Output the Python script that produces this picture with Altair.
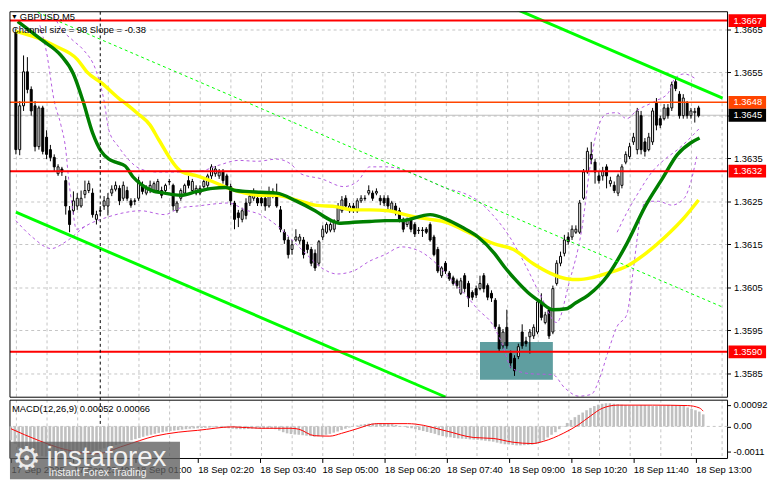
import altair as alt
import pandas as pd

FONT = "Liberation Sans"

# ---------------- candles (GBPUSD M5, bar 0 = 17 Sep 22:20) ----------------
opens = [
1.36641,1.36370,1.36472,1.36551,1.36510,1.36472,1.36377,1.36467,1.36399,1.36370,
1.36352,1.36314,1.36325,1.36298,1.36228,1.36228,1.36239,1.36239,1.36266,1.36275,
1.36269,1.36208,1.36228,1.36239,1.36239,1.36269,1.36278,1.36280,1.36257,1.36275,
1.36251,1.36251,1.36257,1.36287,1.36269,1.36275,1.36275,1.36275,1.36275,1.36275,
1.36296,1.36287,1.36228,1.36257,1.36269,1.36298,1.36275,1.36269,1.36269,1.36284,
1.36287,1.36309,1.36314,1.36309,1.36318,1.36309,1.36284,1.36246,1.36223,1.36208,
1.36246,1.36246,1.36257,1.36257,1.36257,1.36257,1.36239,1.36273,1.36269,1.36230,
1.36178,1.36160,1.36138,1.36160,1.36158,1.36160,1.36149,1.36138,1.36129,1.36106,
1.36167,1.36178,1.36183,1.36185,1.36205,1.36228,1.36257,1.36228,1.36239,1.36228,
1.36251,1.36257,1.36269,1.36269,1.36269,1.36257,1.36257,1.36257,1.36228,1.36239,
1.36228,1.36208,1.36196,1.36208,1.36196,1.36183,1.36183,1.36185,1.36196,1.36167,
1.36138,1.36077,1.36106,1.36083,1.36072,1.36065,1.36036,1.36077,1.36059,1.36038,
1.36047,1.36047,1.36077,1.36054,1.36036,1.36020,1.35957,1.35914,1.35957,1.35896,
1.35885,1.35889,1.35946,1.35925,1.35935,1.35937,1.35946,1.36016,1.35968,1.35998,
1.35946,1.36059,1.36106,1.36129,1.36167,1.36167,1.36178,1.36178,1.36257,1.36318,
1.36359,1.36341,1.36309,1.36309,1.36330,1.36291,1.36287,1.36269,1.36287,1.36341,
1.36354,1.36388,1.36370,1.36449,1.36388,1.36370,1.36388,1.36478,1.36442,1.36442,
1.36467,1.36467,1.36528,1.36499,1.36449,1.36478,1.36449,1.36456,1.36467]
highs = [
1.36652,1.36483,1.36589,1.36585,1.36517,1.36483,1.36472,1.36472,1.36415,1.36381,
1.36359,1.36336,1.36330,1.36309,1.36239,1.36273,1.36269,1.36275,1.36298,1.36298,
1.36280,1.36228,1.36239,1.36262,1.36269,1.36287,1.36296,1.36287,1.36296,1.36284,
1.36257,1.36257,1.36307,1.36296,1.36287,1.36298,1.36296,1.36302,1.36284,1.36291,
1.36302,1.36291,1.36251,1.36280,1.36291,1.36309,1.36302,1.36287,1.36287,1.36302,
1.36314,1.36336,1.36332,1.36325,1.36325,1.36314,1.36291,1.36251,1.36230,1.36235,
1.36257,1.36269,1.36280,1.36264,1.36264,1.36264,1.36284,1.36280,1.36291,1.36239,
1.36185,1.36167,1.36160,1.36185,1.36174,1.36167,1.36156,1.36144,1.36138,1.36160,
1.36194,1.36201,1.36201,1.36208,1.36246,1.36262,1.36264,1.36246,1.36246,1.36257,
1.36264,1.36264,1.36287,1.36275,1.36280,1.36264,1.36264,1.36264,1.36251,1.36246,
1.36235,1.36212,1.36212,1.36212,1.36201,1.36190,1.36190,1.36190,1.36201,1.36172,
1.36144,1.36099,1.36111,1.36088,1.36077,1.36070,1.36072,1.36083,1.36065,1.36043,
1.36054,1.36077,1.36083,1.36059,1.36043,1.36025,1.35964,1.35953,1.35998,1.35903,
1.35892,1.35919,1.35964,1.35935,1.35953,1.35964,1.36020,1.36036,1.35993,1.36002,
1.36054,1.36113,1.36133,1.36172,1.36178,1.36194,1.36194,1.36253,1.36325,1.36375,
1.36388,1.36348,1.36320,1.36330,1.36336,1.36307,1.36296,1.36314,1.36336,1.36366,
1.36386,1.36409,1.36467,1.36460,1.36397,1.36409,1.36467,1.36490,1.36449,1.36476,
1.36476,1.36528,1.36539,1.36506,1.36499,1.36483,1.36467,1.36467,1.36472]
lows = [
1.36359,1.36357,1.36460,1.36501,1.36449,1.36366,1.36370,1.36359,1.36348,1.36343,
1.36320,1.36309,1.36309,1.36219,1.36178,1.36219,1.36230,1.36235,1.36257,1.36269,
1.36212,1.36196,1.36217,1.36230,1.36217,1.36262,1.36273,1.36241,1.36251,1.36251,
1.36235,1.36241,1.36251,1.36266,1.36264,1.36269,1.36269,1.36269,1.36257,1.36269,
1.36287,1.36228,1.36223,1.36251,1.36264,1.36280,1.36269,1.36264,1.36264,1.36280,
1.36280,1.36302,1.36307,1.36302,1.36291,1.36280,1.36241,1.36185,1.36190,1.36201,
1.36208,1.36239,1.36251,1.36239,1.36239,1.36228,1.36235,1.36257,1.36235,1.36178,
1.36151,1.36117,1.36126,1.36156,1.36151,1.36117,1.36129,1.36099,1.36088,1.36099,
1.36160,1.36174,1.36178,1.36178,1.36201,1.36223,1.36235,1.36223,1.36223,1.36223,
1.36246,1.36251,1.36264,1.36251,1.36264,1.36241,1.36239,1.36230,1.36223,1.36217,
1.36201,1.36178,1.36190,1.36178,1.36167,1.36174,1.36167,1.36174,1.36156,1.36122,
1.36083,1.36072,1.36081,1.36065,1.36054,1.36047,1.36032,1.36038,1.36004,1.36020,
1.36025,1.36043,1.36038,1.36020,1.36016,1.35953,1.35901,1.35907,1.35907,1.35862,
1.35844,1.35883,1.35907,1.35912,1.35896,1.35930,1.35941,1.35973,1.35964,1.35930,
1.35941,1.36054,1.36099,1.36122,1.36149,1.36160,1.36174,1.36174,1.36253,1.36314,
1.36336,1.36291,1.36291,1.36298,1.36280,1.36284,1.36269,1.36262,1.36280,1.36336,
1.36348,1.36381,1.36359,1.36359,1.36354,1.36366,1.36381,1.36415,1.36420,1.36438,
1.36442,1.36460,1.36506,1.36442,1.36442,1.36442,1.36442,1.36433,1.36445]
closes = [
1.36370,1.36472,1.36551,1.36510,1.36460,1.36377,1.36467,1.36366,1.36359,1.36352,
1.36330,1.36330,1.36318,1.36239,1.36196,1.36251,1.36257,1.36257,1.36275,1.36291,
1.36219,1.36219,1.36227,1.36251,1.36257,1.36278,1.36287,1.36251,1.36287,1.36257,
1.36241,1.36250,1.36298,1.36273,1.36280,1.36287,1.36291,1.36296,1.36264,1.36287,
1.36295,1.36239,1.36246,1.36275,1.36287,1.36287,1.36296,1.36280,1.36280,1.36296,
1.36309,1.36330,1.36325,1.36318,1.36298,1.36287,1.36251,1.36208,1.36212,1.36228,
1.36217,1.36262,1.36273,1.36246,1.36246,1.36239,1.36269,1.36264,1.36239,1.36185,
1.36160,1.36126,1.36149,1.36167,1.36167,1.36126,1.36138,1.36106,1.36095,1.36156,
1.36185,1.36196,1.36196,1.36201,1.36239,1.36253,1.36239,1.36239,1.36230,1.36251,
1.36257,1.36256,1.36275,1.36257,1.36273,1.36251,1.36246,1.36239,1.36246,1.36223,
1.36205,1.36185,1.36208,1.36185,1.36174,1.36182,1.36182,1.36178,1.36160,1.36126,
1.36088,1.36095,1.36088,1.36070,1.36059,1.36054,1.36065,1.36047,1.36025,1.36027,
1.36032,1.36059,1.36047,1.36027,1.36025,1.35959,1.35907,1.35946,1.35914,1.35874,
1.35856,1.35912,1.35914,1.35919,1.35946,1.35957,1.36016,1.35980,1.35986,1.35937,
1.36047,1.36106,1.36122,1.36160,1.36156,1.36185,1.36185,1.36246,1.36318,1.36366,
1.36348,1.36318,1.36298,1.36320,1.36309,1.36298,1.36275,1.36309,1.36330,1.36359,
1.36377,1.36399,1.36460,1.36370,1.36366,1.36399,1.36460,1.36427,1.36427,1.36467,
1.36449,1.36521,1.36512,1.36449,1.36490,1.36449,1.36460,1.36459,1.36449]

# ---------------- MACD(12,26,9) ----------------
macd_hist = [
-0.00060,-0.00075,-0.00090,-0.00100,-0.00110,-0.00118,-0.00122,-0.00126,-0.00128,-0.00130,
-0.00131,-0.00132,-0.00132,-0.00132,-0.00130,-0.00128,-0.00126,-0.00124,-0.00120,-0.00116,
-0.00112,-0.00108,-0.00104,-0.00100,-0.00095,-0.00090,-0.00085,-0.00080,-0.00075,-0.00070,
-0.00065,-0.00060,-0.00055,-0.00050,-0.00045,-0.00040,-0.00036,-0.00032,-0.00028,-0.00025,
-0.00022,-0.00020,-0.00018,-0.00016,-0.00014,-0.00012,-0.00010,-0.00009,-0.00008,-0.00007,
-0.00006,-0.00005,-0.00004,-0.00004,-0.00005,-0.00006,-0.00008,-0.00010,-0.00012,-0.00012,
-0.00012,-0.00011,-0.00010,-0.00010,-0.00010,-0.00010,-0.00010,-0.00010,-0.00012,-0.00018,
-0.00025,-0.00030,-0.00033,-0.00035,-0.00036,-0.00038,-0.00040,-0.00042,-0.00044,-0.00043,
-0.00040,-0.00036,-0.00032,-0.00027,-0.00022,-0.00016,-0.00010,-0.00005,0.00000,0.00004,
0.00008,0.00010,0.00012,0.00013,0.00014,0.00014,0.00013,0.00012,0.00010,0.00006,
0.00002,-0.00002,-0.00006,-0.00008,-0.00012,-0.00016,-0.00020,-0.00024,-0.00028,-0.00032,
-0.00038,-0.00042,-0.00045,-0.00047,-0.00050,-0.00052,-0.00053,-0.00054,-0.00056,-0.00057,
-0.00058,-0.00060,-0.00062,-0.00064,-0.00066,-0.00070,-0.00074,-0.00077,-0.00078,-0.00080,
-0.00082,-0.00082,-0.00081,-0.00080,-0.00079,-0.00076,-0.00070,-0.00060,-0.00048,-0.00036,
-0.00025,-0.00012,0.00002,0.00015,0.00028,0.00040,0.00050,0.00060,0.00070,0.00080,
0.00088,0.00094,0.00098,0.00100,0.00100,0.00098,0.00096,0.00094,0.00092,0.00090,
0.00090,0.00090,0.00092,0.00092,0.00090,0.00088,0.00088,0.00090,0.00090,0.00092,
0.00092,0.00090,0.00090,0.00088,0.00082,0.00076,0.00070,0.00064,0.00052]
signal_bars = [0,7,14,22,29,37,43,48,57,64,72,74,78,82,85,89,94,102,104,112,
               119,124,129,134,137,142,146,149,152,156,165,174,177,178]
signal_vals = [-0.00010,-0.00060,-0.00100,-0.00118,-0.00084,-0.00042,-0.00025,-0.00017,-0.00002,-0.00008,
               -0.00008,-0.00012,-0.00040,-0.00042,-0.00030,-0.00010,0.00012,0.00012,0.00010,-0.00020,
               -0.00048,-0.00052,-0.00068,-0.00074,-0.00064,-0.00030,0.00008,0.00045,0.00078,0.00092,
               0.00092,0.00090,0.00080,0.00066]

# ---------------- moving averages & bands (sampled) ----------------
green_bars = [0.5,6.75,11.75,15,17.5,20,22.25,24.25,26,28.5,30.5,33,35.5,38.75,43,47.25,51.25,54.75,57.25,59.75,
              63.75,68,73,78,82.25,84.75,88,92.25,96.25,100.5,108,112.25,116.25,120.5,124.75,127.25,130,133.5,136.75,140,
              143.5,146,149.25,154.25,159.25,164.25,168.5,172.5,176,178.25]
green_vals = [1.36668,1.36625,1.36589,1.36546,1.36483,1.36409,1.36366,1.36348,1.36341,1.36332,
              1.36307,1.36287,1.36275,1.36269,1.36264,1.36273,1.36280,1.36282,1.36275,1.36273,
              1.36271,1.36269,1.36251,1.36228,1.36205,1.36199,1.36201,1.36203,1.36205,1.36205,
              1.36219,1.36208,1.36190,1.36167,1.36129,1.36099,1.36070,1.36038,1.36016,1.35998,
              1.36000,1.36014,1.36032,1.36077,1.36151,1.36241,1.36302,1.36359,1.36386,1.36397]
yellow_bars = [0,7.5,10,16,18.5,22.5,26.75,28.5,31.75,35,37.25,43,47.25,51.25,55.5,59.75,63.75,68,73,78,
               83.75,88,92.25,97.25,99.75,103.75,108,112.25,116.25,120.5,124.75,129.75,135,139.25,143.5,146.75,150,
               154.25,159.25,164.25,169.25,174.25,178]
yellow_vals = [1.36645,1.36623,1.36612,1.36580,1.36551,1.36524,1.36490,1.36478,1.36454,1.36427,
               1.36393,1.36320,1.36309,1.36296,1.36280,1.36269,1.36264,1.36264,1.36253,1.36241,
               1.36237,1.36230,1.36230,1.36228,1.36223,1.36214,1.36208,1.36201,1.36185,1.36167,
               1.36151,1.36138,1.36104,1.36083,1.36070,1.36068,1.36072,1.36083,1.36099,1.36129,
               1.36167,1.36212,1.36253]
upper_bars = [8,11.75,15,17.5,21,23,24.25,26.75,29.25,32.5,36.75,43,48,53,58,63,68,71.75,74.25,79.75,85.5,
              89.25,92.25,96.75,101.75,106.75,112.25,116.75,120.5,124.25,128.75,133,136.75,141,144.25,147.5,
              150,151.75,154.25,156.75,159.25,161.75,166.75,170,171.75,174.25,177.5]
upper_vals = [1.36720,1.36652,1.36623,1.36603,1.36551,1.36483,1.36415,1.36377,1.36348,1.36325,1.36318,
              1.36318,1.36320,1.36334,1.36345,1.36343,1.36348,1.36336,1.36314,1.36302,1.36284,
              1.36298,1.36330,1.36330,1.36320,1.36302,1.36280,1.36269,1.36251,1.36219,1.36167,
              1.36099,1.36032,1.35968,1.36061,1.36183,1.36348,1.36422,1.36454,1.36456,1.36442,
              1.36460,1.36483,1.36501,1.36535,1.36546,1.36533]
lower_bars = [0,4.25,9.25,13,18.5,23.5,28,32.5,38.75,43,47.25,55.5,59.75,63.75,68,71.25,75.5,79.75,83.75,88,
              92.25,96.25,100.5,105.5,109.75,113.75,117.25,120.5,124.25,126.75,129.25,134.25,140,143,146.75,150,
              152.25,154.25,156.75,159.25,161,162.5,164.25,167.5,171,174.25,176,177.5]
lower_vals = [1.36205,1.36167,1.36140,1.36156,1.36194,1.36212,1.36223,1.36228,1.36219,1.36235,
              1.36239,1.36246,1.36230,1.36219,1.36194,1.36167,1.36129,1.36095,1.36081,1.36088,
              1.36111,1.36126,1.36144,1.36133,1.36104,1.36065,1.36032,1.35998,1.35964,1.35919,
              1.35862,1.35849,1.35847,1.35817,1.35797,1.35801,1.35840,1.35896,1.35959,1.35986,
              1.36093,1.36196,1.36250,1.36250,1.36241,1.36257,1.36296,1.36354]
mid_bars = [156.75,159.25,162.5,166,169.25,172.5,176,178.25]
mid_vals = [1.36178,1.36223,1.36273,1.36320,1.36348,1.36370,1.36399,1.36420]
env_bars = [6.25,8,10,11.75,13,13.75,14.75,15.75,18.5]
env_vals = [1.36659,1.36596,1.36483,1.36427,1.36370,1.36302,1.36235,1.36185,1.36194]

# ---------------- regression channel (visible segments) ----------------
chan_up_bars = [0, 184.25]
chan_upper = [1.37197, 1.36490]
chan_mid_bars = [0, 184.25]
chan_mid = [1.36711, 1.36004]
chan_lo_bars = [0, 112]
chan_lower = [1.36225, 1.35795]

# ---------------- levels / annotations ----------------
levels = [1.3667, 1.3648, 1.3632, 1.3590]
level_colors = ["#FF0000", "#FF4500", "#FF0000", "#FF0000"]
level_widths = [2, 1.5, 2, 2]
bid_price = 1.3645
box_bars = [121, 140]
box_prices = [1.35835, 1.35923]
separator_bar = 22

price_ticks = [1.3585, 1.3595, 1.3605, 1.3615, 1.3625, 1.3635, 1.3645, 1.3655, 1.3665]
macd_ticks = [0.00092, 0.0, -0.0011]
macd_tick_labels = ["0.00092", "0.00", "-0.0011"]
tick_bars = [0, 16, 32, 48, 64, 80, 96, 112, 128, 144, 160, 176]
tick_labels = ["17 Sep 2025", "17 Sep 23:40", "18 Sep 01:00", "18 Sep 02:20", "18 Sep 03:40",
               "18 Sep 05:00", "18 Sep 06:20", "18 Sep 07:40", "18 Sep 09:00", "18 Sep 10:20",
               "18 Sep 11:40", "18 Sep 13:00"]
grid_bars = list(range(0, 185, 8))

# ---------------- geometry, scales & axes ----------------
W, H_MAIN, GAP, H_MACD = 726, 390, 3, 59
M_TOP = H_MAIN + GAP
H_ALL = M_TOP + H_MACD
GRID = "#C4C4C4"
xs = alt.Scale(domain=[-0.25, 184.25], nice=False, zero=False)
ys = alt.Scale(domain=[1.357945, 1.366906], range=[H_MAIN, 0], nice=False, zero=False)
ms = alt.Scale(domain=[-0.001386, 0.001134], range=[H_ALL, M_TOP], nice=False, zero=False)


def expr_from(values, labels, fmt_default="''"):
    e = fmt_default
    for v, l in reversed(list(zip(values, labels))):
        e = f"abs(datum.value - ({v})) < 0.000001 ? '{l}' : ({e})"
    return e


AX_MAIN_X = alt.Axis(orient="bottom", values=grid_bars, grid=True, gridDash=[3, 3], gridColor=GRID,
                     labels=False, ticks=False, domain=False, title=None)
AX_MAIN_Y = alt.Axis(orient="right", values=price_ticks, format=".4f", grid=True,
                     gridDash=[3, 3], gridColor=GRID, tickSize=3, tickColor="black",
                     labelPadding=3, domain=False, labelFont=FONT, labelFontSize=9.5,
                     labelColor="black", title=None)
AX_MACD_X = alt.Axis(orient="bottom", values=tick_bars, labelExpr=expr_from(tick_bars, tick_labels),
                     grid=False, labelAlign="left", tickSize=4, tickColor="black", labelPadding=2,
                     domain=False, labelFont=FONT, labelFontSize=9.5, labelColor="black",
                     labelOverlap=False, labelFlush=False, title=None)
AX_MACD_Y = alt.Axis(orient="right", values=macd_ticks, labels=False, grid=False,
                     tickSize=3, tickColor="black", domain=False, title=None)


def MX(f):
    return alt.X(f, scale=xs, axis=AX_MAIN_X, title=None)


def MY(f):
    return alt.Y(f, scale=ys, axis=AX_MAIN_Y, title=None)


def QX(f):
    return alt.X(f, scale=xs, axis=AX_MACD_X, title=None)


def QY(f):
    return alt.Y(f, scale=ms, axis=AX_MACD_Y, title=None)


def line_layer(bx, vals, color, width, dash=None, clip=False, interp="linear"):
    df = pd.DataFrame({"bar": bx, "price": vals})
    kw = dict(color=color, strokeWidth=width, clip=clip, interpolate=interp)
    if dash:
        kw["strokeDash"] = dash
    return alt.Chart(df).mark_line(**kw).encode(x=MX("bar:Q"), y=MY("price:Q"))


one = pd.DataFrame({"k": [0]})

# ---------------- main (price) panel ----------------
box = alt.Chart(pd.DataFrame({"b0": [box_bars[0]], "b1": [box_bars[1]],
                              "p0": [box_prices[0]], "p1": [box_prices[1]]})).mark_rect(
    color="#5F9EA0").encode(x=MX("b0:Q"), x2="b1:Q", y=MY("p0:Q"), y2="p1:Q")

bid = alt.Chart(pd.DataFrame({"price": [bid_price]})).mark_rule(
    color="#BEBEBE", strokeWidth=1).encode(y=MY("price:Q"))

candles = pd.DataFrame({"bar": list(range(len(closes))), "open": opens, "high": highs,
                        "low": lows, "close": closes})
wick = alt.Chart(candles).mark_rule(color="black", strokeWidth=1).encode(
    x=MX("bar:Q"), y=MY("low:Q"), y2="high:Q")
body = alt.Chart(candles).mark_bar(size=2, stroke="black", strokeWidth=1).encode(
    x=MX("bar:Q"), y=MY("open:Q"), y2="close:Q",
    fill=alt.condition("datum.close >= datum.open", alt.value("white"), alt.value("black")))

purple = "#B45CE0"
bands = [
    line_layer(upper_bars, upper_vals, purple, 1, [3, 3], clip=True, interp="monotone"),
    line_layer(lower_bars, lower_vals, purple, 1, [3, 3], clip=True, interp="monotone"),
    line_layer(mid_bars, mid_vals, purple, 1, [3, 3], clip=True, interp="monotone"),
    line_layer(env_bars, env_vals, purple, 1, [3, 3], clip=True, interp="monotone"),
]
yellow = line_layer(yellow_bars, yellow_vals, "#FFFF00", 3.5, clip=True, interp="monotone")
green = line_layer(green_bars, green_vals, "#007F00", 3.5, clip=True, interp="monotone")
ch_up = line_layer(chan_up_bars, chan_upper, "#00FF00", 3, clip=True)
ch_lo = line_layer(chan_lo_bars, chan_lower, "#00FF00", 3, clip=True)
ch_mid = line_layer(chan_mid_bars, chan_mid, "#00FF00", 1, [3, 3], clip=True)

lv = pd.DataFrame({"price": levels, "col": level_colors, "w": level_widths})
level_rules = alt.Chart(lv).mark_rule().encode(
    y=MY("price:Q"), color=alt.Color("col:N", scale=None),
    strokeWidth=alt.StrokeWidth("w:Q", scale=None))

sep_all = alt.Chart(pd.DataFrame({"bar": [separator_bar]})).mark_rule(
    color="black", strokeWidth=1, strokeDash=[3, 3]).encode(
    x=MX("bar:Q"), y=alt.value(0), y2=alt.value(H_ALL))

gap_fill = alt.Chart(one).mark_rect(color="white").encode(
    x=alt.value(-1), x2=alt.value(W + 1), y=alt.value(H_MAIN), y2=alt.value(M_TOP))
frame_main = alt.Chart(one).mark_rect(fill=None, stroke="black", strokeWidth=1).encode(
    x=alt.value(0), x2=alt.value(W), y=alt.value(0), y2=alt.value(H_MAIN))
frame_macd = alt.Chart(one).mark_rect(fill=None, stroke="black", strokeWidth=1).encode(
    x=alt.value(0), x2=alt.value(W), y=alt.value(M_TOP), y2=alt.value(H_ALL))

lab = pd.DataFrame({"price": levels + [bid_price],
                    "col": level_colors + ["#000000"],
                    "txt": [f"{p:.4f}" for p in levels + [bid_price]]})
lab_box = alt.Chart(lab).mark_rule(strokeWidth=13, strokeCap="butt").encode(
    x=alt.value(W + 1), x2=alt.value(W + 39), y=MY("price:Q"),
    color=alt.Color("col:N", scale=None))
lab_txt = alt.Chart(lab).mark_text(align="left", baseline="middle", font=FONT, fontSize=9.5,
                                   color="white").encode(
    x=alt.value(W + 6), y=MY("price:Q"), text="txt:N")

tri = alt.Chart(one).mark_text(text="▼", fontSize=7, align="left", baseline="middle",
                               color="black").encode(x=alt.value(1), y=alt.value(5))
head1 = alt.Chart(one).mark_text(text="GBPUSD,M5", font=FONT, fontSize=9.5, align="left",
                                 baseline="middle", color="black").encode(x=alt.value(10), y=alt.value(5))
head2 = alt.Chart(one).mark_text(text="Channel size = 98 Slope = -0.38", font=FONT, fontSize=9.5,
                                 align="left", baseline="middle", color="black").encode(
    x=alt.value(2), y=alt.value(19))

main = alt.layer(box, bid, wick, body, *bands, yellow, green, ch_up, ch_lo, ch_mid,
                 level_rules, gap_fill, sep_all, frame_main, frame_macd,
                 lab_box, lab_txt, tri, head1, head2)

# ---------------- MACD panel ----------------
hist_df = pd.DataFrame({"bar": list(range(len(macd_hist))), "macd": macd_hist,
                        "base": [0.0] * len(macd_hist)})
hist = alt.Chart(hist_df).mark_rule(strokeWidth=2.6, color="#C0C0C0").encode(
    x=QX("bar:Q"), y=QY("base:Q"), y2="macd:Q")
zero = alt.Chart(pd.DataFrame({"macd": [0.0]})).mark_rule(
    color=GRID, strokeDash=[3, 3]).encode(y=QY("macd:Q"))
sig = alt.Chart(pd.DataFrame({"bar": signal_bars, "macd": signal_vals})).mark_line(
    color="#FF0000", strokeWidth=1, interpolate="monotone").encode(x=QX("bar:Q"), y=QY("macd:Q"))
mlab = alt.Chart(pd.DataFrame({"macd": macd_ticks, "txt": macd_tick_labels})).mark_text(
    align="left", baseline="middle", font=FONT, fontSize=9.5, color="black").encode(
    x=alt.value(W + 6), y=QY("macd:Q"), text="txt:N")
macd_txt = alt.Chart(one).mark_text(text="MACD(12,26,9) 0.00052 0.00066", font=FONT, fontSize=9.5,
                                    align="left", baseline="middle", color="black").encode(
    x=alt.value(2), y=alt.value(M_TOP + 9))
wm_box = alt.Chart(one).mark_rect(color="#5E5E5E", opacity=0.78).encode(
    x=alt.value(0), x2=alt.value(172), y=alt.value(M_TOP + 42), y2=alt.value(M_TOP + 80))
wm_gear = alt.Chart(one).mark_text(text="⚙", font="DejaVu Sans", fontSize=32, color="white",
                                   opacity=0.85, align="center", baseline="middle").encode(
    x=alt.value(17), y=alt.value(M_TOP + 60))
wm_name = alt.Chart(one).mark_text(text="instaforex", font=FONT, fontSize=28, color="white",
                                   opacity=0.9, align="left", baseline="alphabetic").encode(
    x=alt.value(37), y=alt.value(M_TOP + 67))
wm_tag = alt.Chart(one).mark_text(text="Instant Forex Trading", font=FONT, fontSize=10.5,
                                  color="white", opacity=0.9, align="left", baseline="middle").encode(
    x=alt.value(39), y=alt.value(M_TOP + 74))

macd = alt.layer(zero, hist, sig, mlab, macd_txt, wm_box, wm_gear, wm_name, wm_tag)

chart = alt.layer(main, macd).resolve_scale(x="independent", y="independent").resolve_axis(
    x="independent", y="independent").properties(
    width=W, height=H_ALL, background="white",
    padding={"left": 0, "top": 0, "right": 0, "bottom": 0}).configure_view(stroke=None)

chart.save("out.html", embed_options={"renderer": "svg", "actions": False})
